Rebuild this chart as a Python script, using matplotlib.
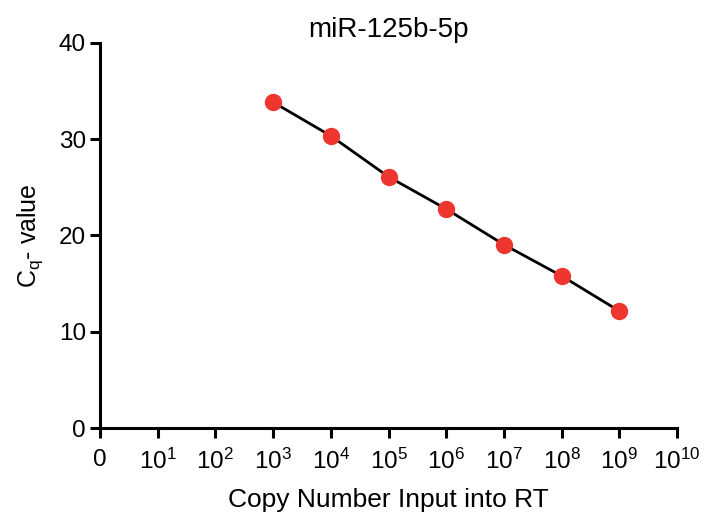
import matplotlib
matplotlib.use('Agg')
import matplotlib.pyplot as plt
import numpy as np

plt.rcParams['font.family'] = ['Liberation Sans', 'DejaVu Sans']
plt.rcParams['mathtext.fontset'] = 'custom'
plt.rcParams['mathtext.rm'] = 'Liberation Sans'
plt.rcParams['mathtext.it'] = 'Liberation Sans'
plt.rcParams['mathtext.default'] = 'regular'

# log10 copy number and Cq values
log_copies = [3, 4, 5, 6, 7, 8, 9]
cq = [33.85, 30.35, 26.1, 22.75, 19.05, 15.8, 12.15]
xtick_pos = list(range(11))
xtick_labels = ['0'] + ['10$^{%d}$' % i for i in range(1, 11)]
ytick_pos = [0, 10, 20, 30, 40]

fig = plt.figure(figsize=(7.22, 5.26), dpi=100)
ax = fig.add_axes([0.1385, 0.1863, 0.7992, 0.732])

ax.plot(log_copies, cq, '-', color='black', lw=2.0, zorder=2)
ax.plot(log_copies, cq, 'o', color='#EE3530', markersize=12.5, mec='none', zorder=3)

ax.set_xlim(0, 10)
ax.set_ylim(0, 40)
ax.set_xticks(xtick_pos)
ax.set_xticklabels(xtick_labels)
ax.set_yticks(ytick_pos)

for s in ['top', 'right']:
    ax.spines[s].set_visible(False)
for s in ['left', 'bottom']:
    ax.spines[s].set_linewidth(2.2)
ax.tick_params(width=2.2, length=7, labelsize=17.5, pad=3)
ax.tick_params(axis='x', pad=8)

ax.set_title('miR-125b-5p', fontsize=20, pad=3)
ax.set_xlabel('Copy Number Input into RT', fontsize=19, labelpad=10)
ax.set_ylabel('C$_\\mathregular{q}$- value', fontsize=18, labelpad=10)

fig.savefig('out.png', dpi=100)
